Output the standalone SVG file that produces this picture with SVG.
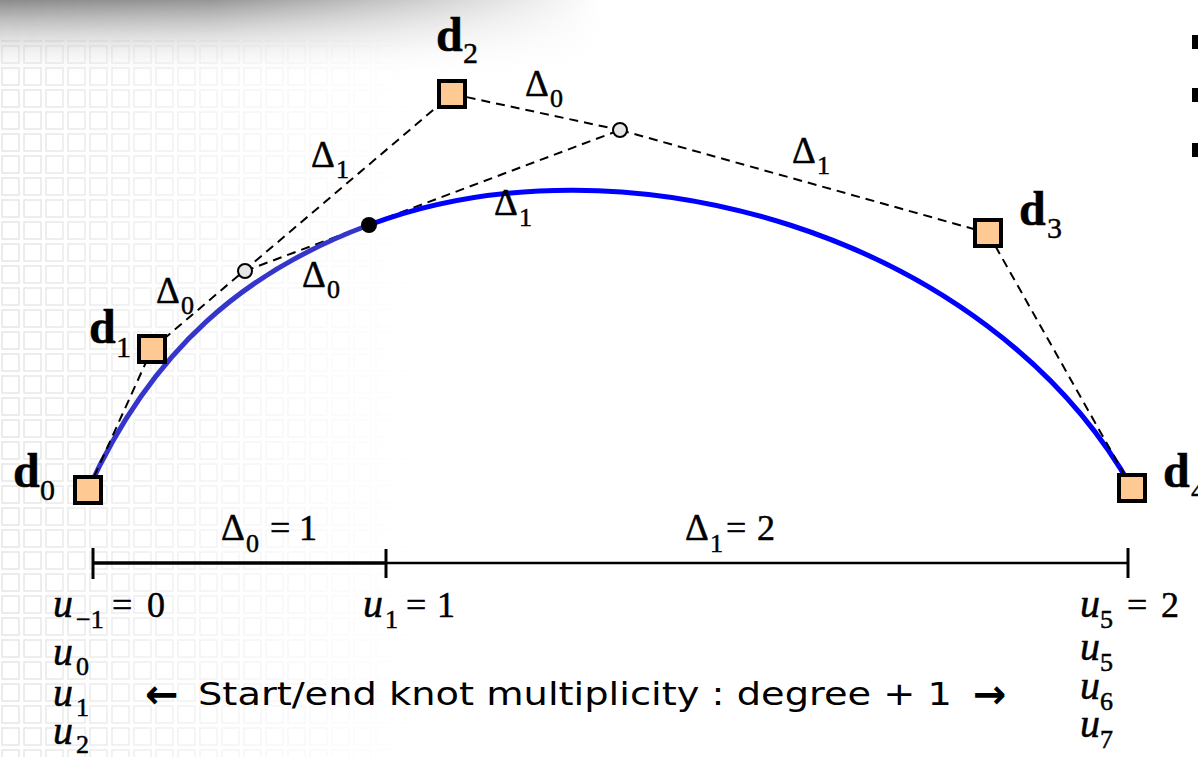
<svg xmlns="http://www.w3.org/2000/svg" width="1198" height="757" viewBox="0 0 1198 757">
  <defs>
    <style>
      .m { font-family: "Liberation Serif", "Times New Roman", serif; fill: #000; stroke: #000; stroke-width: 0.5px; }
      .mi { font-family: "Liberation Serif", "Times New Roman", serif; font-style: italic; font-size: 40px; fill: #000; }
      .num { font-size: 36px; }
      .sub { font-size: 26px; }
      .dl { font-family: "Liberation Serif", "Times New Roman", serif; font-weight: bold; font-size: 48px; fill: #000; stroke: #000; stroke-width: 0.5px; }
      .dsub { font-family: "Liberation Serif", "Times New Roman", serif; font-size: 30px; fill: #000; stroke: #000; stroke-width: 0.4px; }
      .delta { font-size: 37px; }
      .cp { fill: #ffc994; stroke: #000; stroke-width: 4; }
      .dash { fill: none; stroke: #000; stroke-width: 2; stroke-dasharray: 9 6; }
      .oc { fill: #e6e6e6; stroke: #000; stroke-width: 2; }
      .axis { stroke: #000; fill: none; }
      .note { font-family: "DejaVu Sans", "Open Sans", sans-serif; font-size: 32px; fill: #000; }
      .arr { font-family: "DejaVu Sans", sans-serif; font-weight: bold; font-size: 40px; fill: #000; }
    </style>
    <linearGradient id="topg" x1="0" y1="0" x2="0" y2="1">
      <stop offset="0" stop-color="#8a8a8a" stop-opacity="1"/>
      <stop offset="1" stop-color="#ffffff" stop-opacity="0"/>
    </linearGradient>
    <linearGradient id="fadeX" x1="0" y1="0" x2="1" y2="0">
      <stop offset="0" stop-color="#fff" stop-opacity="1"/>
      <stop offset="0.35" stop-color="#fff" stop-opacity="0.9"/>
      <stop offset="1" stop-color="#fff" stop-opacity="0"/>
    </linearGradient>
    <mask id="topmask">
      <rect x="0" y="0" width="600" height="80" fill="url(#fadeX)"/>
    </mask>
    <linearGradient id="gridFade" x1="0" y1="0" x2="1" y2="0">
      <stop offset="0" stop-color="#fff" stop-opacity="0.55"/>
      <stop offset="0.5" stop-color="#fff" stop-opacity="0.25"/>
      <stop offset="1" stop-color="#fff" stop-opacity="0"/>
    </linearGradient>
    <mask id="gridmask">
      <rect x="0" y="40" width="420" height="717" fill="url(#gridFade)"/>
    </mask>
    <pattern id="grid" x="0" y="0" width="22" height="22" patternUnits="userSpaceOnUse">
      <rect x="2" y="2" width="17" height="17" fill="none" stroke="#d0d0d0" stroke-width="1.5"/>
    </pattern>
  </defs>

  <rect x="0" y="0" width="1198" height="757" fill="#ffffff"/>
  <g id="background">
    <rect x="0" y="40" width="420" height="717" fill="url(#grid)" mask="url(#gridmask)"/>
    <rect x="0" y="0" width="600" height="80" fill="url(#topg)" mask="url(#topmask)"/>
    <rect x="1192" y="35" width="14" height="14" fill="#000"/>
    <rect x="1192" y="88" width="14" height="14" fill="#000"/>
    <rect x="1192" y="143" width="14" height="14" fill="#000"/>
  </g>

  <g id="connectors">
    <line class="dash" x1="245" y1="271" x2="620" y2="130"/>
    <path d="M 88,490 C 152,349 245,271 369,225" fill="none" stroke="#3535cc" stroke-width="5"/>
    <path d="M 369,225 C 620,130 988,233 1132,488" fill="none" stroke="#0000ff" stroke-width="5"/>
    <line class="dash" x1="88" y1="490" x2="152" y2="349"/>
    <line class="dash" x1="152" y1="349" x2="452" y2="94"/>
    <line class="dash" x1="452" y1="94" x2="620" y2="130"/>
    <line class="dash" x1="620" y1="130" x2="988" y2="233"/>
    <line class="dash" x1="988" y1="233" x2="1132" y2="488"/>
  </g>

  <g id="d0"><rect class="cp" x="75" y="477" width="26" height="26"/>
    <text class="dl" x="13" y="487">d</text><text class="dsub" x="40" y="500">0</text></g>
  <g id="d1"><rect class="cp" x="139" y="336" width="26" height="26"/>
    <text class="dl" x="89" y="343">d</text><text class="dsub" x="116" y="357">1</text></g>
  <g id="d2"><rect class="cp" x="439" y="81" width="26" height="26"/>
    <text class="dl" x="436" y="51">d</text><text class="dsub" x="463" y="63">2</text></g>
  <g id="d3"><rect class="cp" x="975" y="220" width="26" height="26"/>
    <text class="dl" x="1019" y="225">d</text><text class="dsub" x="1047" y="238">3</text></g>
  <g id="d4"><rect class="cp" x="1119" y="475" width="26" height="26"/>
    <text class="dl" x="1163" y="487">d</text><text class="dsub" x="1191" y="500">4</text></g>

  <g id="p1"><circle class="oc" cx="245" cy="271" r="7"/></g>
  <g id="p2"><circle class="oc" cx="620" cy="130" r="7"/></g>
  <g id="p3"><circle cx="369" cy="225" r="8" fill="#000"/></g>

  <g id="delta-labels" class="m">
    <text class="delta" x="311" y="167">Δ</text><text class="sub" x="336" y="178">1</text>
    <text class="delta" x="302" y="287">Δ</text><text class="sub" x="327" y="298">0</text>
    <text class="delta" x="156" y="303">Δ</text><text class="sub" x="181" y="314">0</text>
    <text class="delta" x="525" y="96">Δ</text><text class="sub" x="550" y="107">0</text>
    <text class="delta" x="494" y="215">Δ</text><text class="sub" x="519" y="226">1</text>
    <text class="delta" x="792" y="163">Δ</text><text class="sub" x="817" y="174">1</text>
  </g>

  <g id="axis">
    <line class="axis" x1="93" y1="563" x2="386" y2="563" stroke-width="3.5"/>
    <line class="axis" x1="386" y1="563" x2="1128" y2="563" stroke-width="2.5"/>
    <line class="axis" x1="93" y1="548" x2="93" y2="579" stroke-width="3"/>
    <line class="axis" x1="386" y1="549" x2="386" y2="578" stroke-width="3"/>
    <line class="axis" x1="1128" y1="548" x2="1128" y2="578" stroke-width="3"/>
  </g>

  <g id="axis-labels" class="m">
    <text class="delta" x="221" y="540">Δ</text><text class="sub" x="246" y="552">0</text>
    <text class="num" x="270" y="540">=</text><text class="num" x="299" y="540">1</text>
    <text class="delta" x="685" y="540">Δ</text><text class="sub" x="710" y="552">1</text>
    <text class="num" x="726" y="540">=</text><text class="num" x="757" y="540">2</text>

    <text class="mi" x="53" y="617">u</text><text class="sub" x="76" y="628">−1</text>
    <text class="num" x="112" y="617">=</text><text class="num" x="147" y="617">0</text>
    <text class="mi" x="53" y="665">u</text><text class="sub" x="76" y="675">0</text>
    <text class="mi" x="53" y="706">u</text><text class="sub" x="76" y="716">1</text>
    <text class="mi" x="53" y="744">u</text><text class="sub" x="76" y="753">2</text>

    <text class="mi" x="363" y="617">u</text><text class="sub" x="385" y="628">1</text>
    <text class="num" x="406" y="617">=</text><text class="num" x="437" y="617">1</text>

    <text class="mi" x="1080" y="617">u</text><text class="sub" x="1100" y="628">5</text>
    <text class="num" x="1127" y="617">=</text><text class="num" x="1161" y="617">2</text>
    <text class="mi" x="1080" y="660">u</text><text class="sub" x="1100" y="671">5</text>
    <text class="mi" x="1080" y="699">u</text><text class="sub" x="1100" y="710">6</text>
    <text class="mi" x="1080" y="737">u</text><text class="sub" x="1100" y="748">7</text>
  </g>

  <g id="note">
    <text class="arr" x="145" y="708">←</text>
    <text class="note" x="198" y="705" textLength="754" lengthAdjust="spacingAndGlyphs">Start/end knot multiplicity : degree + 1</text>
    <text class="arr" x="973" y="708">→</text>
  </g>
</svg>
